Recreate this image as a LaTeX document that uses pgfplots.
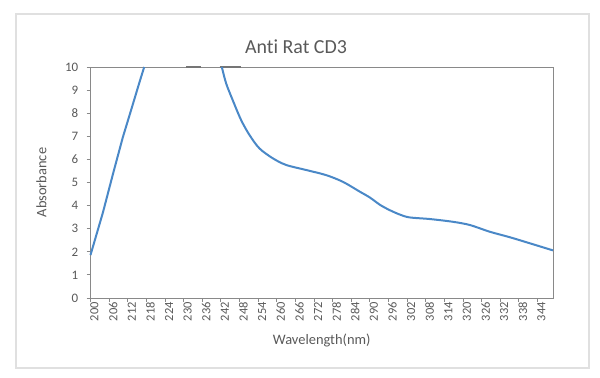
\documentclass[border=0pt]{standalone}
\usepackage{pgfplots}
\pgfplotsset{compat=1.18}
\usepackage{fontspec}
\setmainfont{Carlito}[Ligatures=NoCommon]
\definecolor{txt}{HTML}{595959}
\definecolor{axc}{HTML}{898989}
\definecolor{ln}{HTML}{4A88C7}
\begin{document}
\begin{tikzpicture}
\useasboundingbox (0bp,0bp) rectangle (600bp,378bp);
\draw[black!12, line width=1.2bp] (16bp,10bp) rectangle (589bp,364bp);
\node[text=txt, font=\fontsize{20}{24}\selectfont] at (296bp,331bp) {Anti Rat CD3};
\begin{axis}[
  at={(90.5bp,80bp)}, anchor=south west,
  scale only axis, width=462.5bp, height=231bp,
  xmin=200, xmax=349, ymin=0, ymax=10,
  xtick={200,206,...,344}, ytick={0,1,...,10},
  ytick pos=left, xtick pos=bottom,
  axis line style={axc, line width=0.9bp},
  tick align=outside, major tick length=4bp,
  tick style={axc, line width=0.9bp},
  /pgf/number format/assume math mode=true,
  x tick label style={rotate=90, anchor=east, inner sep=0pt, yshift=-4bp, font=\fontsize{12.5}{13}\selectfont, text=txt},
  y tick label style={anchor=east, inner sep=0pt, xshift=-8bp, font=\fontsize{13}{14}\selectfont, text=txt},
  xlabel={Wavelength(nm)}, ylabel={Absorbance},
  xlabel style={at={(axis description cs:0.5,0)}, anchor=center, yshift=-42bp, font=\fontsize{14.5}{16}\selectfont, text=txt},
  ylabel style={at={(axis description cs:0,0.5)}, anchor=center, yshift=49bp, font=\fontsize{14.5}{16}\selectfont, text=txt},
  clip=false,
]
\addplot[axc!85!black, line width=1.6bp] coordinates {(230.8,10) (235.6,10)};
\addplot[axc!85!black, line width=1.6bp] coordinates {(241.6,10) (248.6,10)};
\addplot[ln, line width=2bp] coordinates {
(200,1.86) (204,3.7) (207.3,5.4) (210.4,6.95) (213,8.1) (215.8,9.35) (217.3,10)};
\addplot[ln, line width=2bp, smooth, tension=0.5] coordinates {
(242.3,10) (243.7,9.29) (245.8,8.57) (248.5,7.71) (251.2,7.06) (254.4,6.48)
(258.7,6.05) (263,5.76) (269.5,5.54) (275.9,5.32) (281.3,5.03) (286.8,4.6)
(290,4.35) (293.3,4.03) (296.3,3.81) (299.5,3.62) (302.7,3.49) (309.2,3.42)
(316.7,3.30) (322.2,3.16) (328.6,2.87) (335.1,2.63) (341.5,2.37) (349,2.06)};
\end{axis}
\end{tikzpicture}
\end{document}
